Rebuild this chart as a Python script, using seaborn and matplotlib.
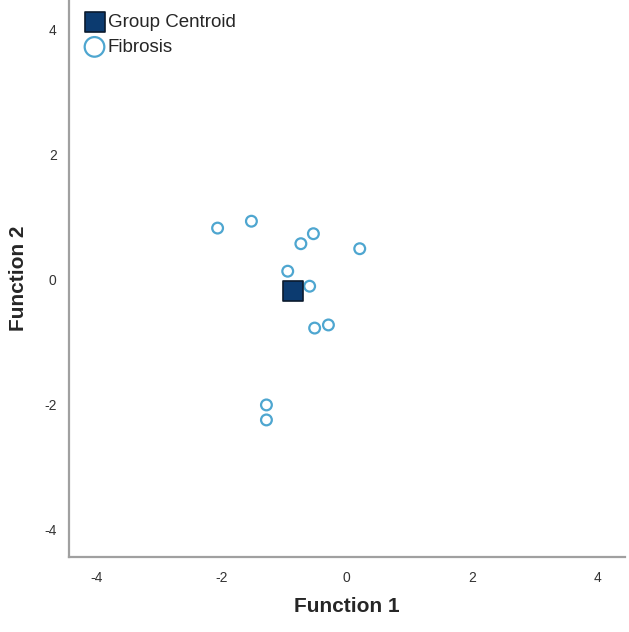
import numpy as np
import pandas as pd
import seaborn as sns
import matplotlib.pyplot as plt

# discriminant scores
fibrosis_f1 = [-2.06, -1.52, -0.53, -0.73, 0.21, -0.94, -0.59, -0.29, -0.51, -1.28, -1.28]
fibrosis_f2 = [0.83, 0.94, 0.74, 0.58, 0.50, 0.14, -0.10, -0.72, -0.77, -2.00, -2.24]
centroid_f1 = [-0.86]
centroid_f2 = [-0.17]

points = pd.DataFrame({'Function 1': fibrosis_f1, 'Function 2': fibrosis_f2})
centroid = pd.DataFrame({'Function 1': centroid_f1, 'Function 2': centroid_f2})

sns.set_style('white')
plt.rcParams['font.family'] = ['Liberation Sans', 'DejaVu Sans']
plt.rcParams['axes.unicode_minus'] = False

fig = plt.figure(figsize=(6.29, 6.32), dpi=100)
ax = fig.add_axes([0.110, 0.119, 0.884, 0.881])

sns.scatterplot(data=centroid, x='Function 1', y='Function 2', ax=ax, marker='s', s=210,
                color='#0c3b70', edgecolor='#0a1a2e', linewidth=1.2, label='Group Centroid', zorder=3)
sns.scatterplot(data=points, x='Function 1', y='Function 2', ax=ax, marker='o', s=60,
                facecolor='none', edgecolor='#4ea6d0', linewidth=1.6, label='Fibrosis', zorder=2)

ax.set_xlim(-4.43, 4.45)
ax.set_ylim(-4.43, 4.48)
ax.set_xticks([-4, -2, 0, 2, 4])
ax.set_yticks([-4, -2, 0, 2, 4])
ax.tick_params(axis='both', length=0, labelsize=10, colors='#333333')
ax.tick_params(axis='x', pad=10)
ax.tick_params(axis='y', pad=9)

for side in ['top', 'right']:
    ax.spines[side].set_visible(False)
for side in ['left', 'bottom']:
    ax.spines[side].set_color('#a0a0a0')
    ax.spines[side].set_linewidth(1.6)

ax.set_xlabel('Function 1', fontsize=15, fontweight='bold', labelpad=9)
ax.set_ylabel('Function 2', fontsize=15, fontweight='bold', labelpad=12)

leg = ax.legend(loc='upper left', frameon=False, fontsize=13.5,
                handletextpad=0.1, handlelength=1.2, borderaxespad=0.35, labelspacing=0.4)
leg.legend_handles[0].set_sizes([200])
leg.legend_handles[1].set_sizes([200])

fig.savefig('out.png', dpi=100)
